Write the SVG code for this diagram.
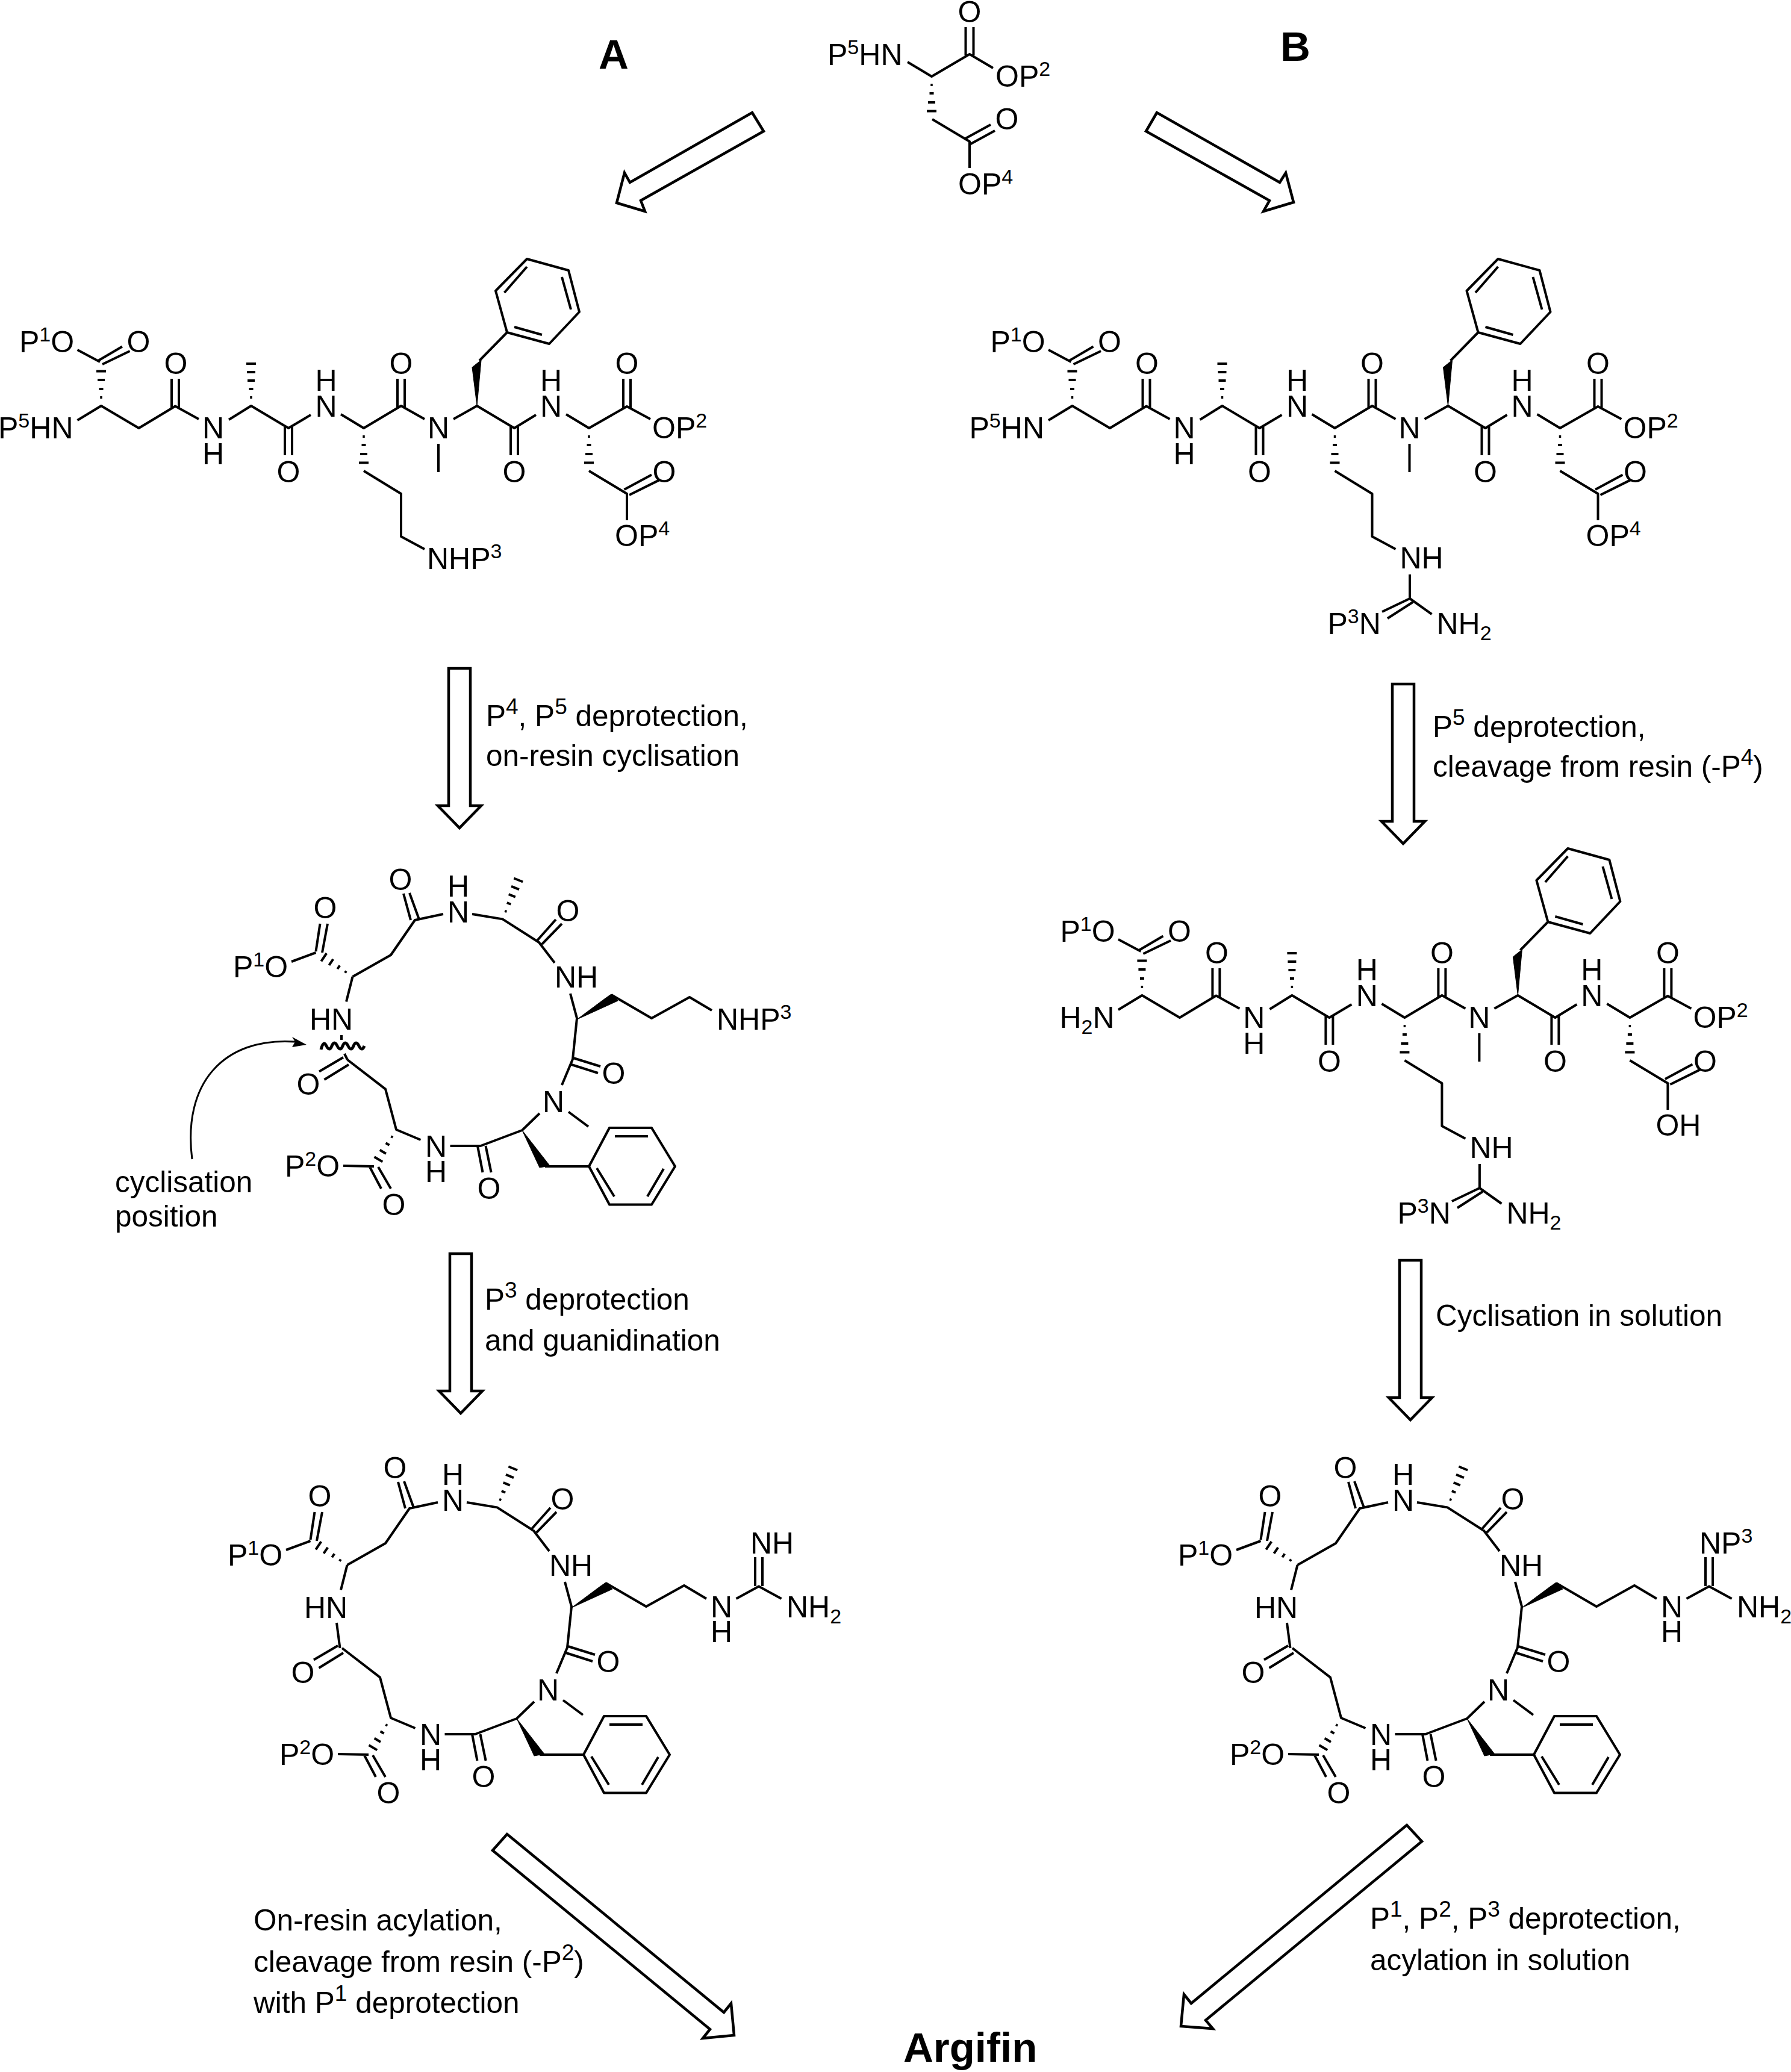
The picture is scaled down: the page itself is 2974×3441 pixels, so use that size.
<svg xmlns="http://www.w3.org/2000/svg" xmlns:xlink="http://www.w3.org/1999/xlink" width="2974" height="3441" viewBox="0 0 2974 3441">
<style>
text{font-family:"Liberation Sans",Arial,sans-serif;font-size:50px;fill:#000}
.m{text-anchor:middle}
.u{font-size:34px}
.l{font-size:49.5px}
.lu{font-size:37px}
.h{font-size:69px;font-weight:bold}
.b{fill:none;stroke:#000;stroke-width:4;stroke-linejoin:round}
.w{fill:#000;stroke:#000;stroke-width:1}
.a{fill:#fff;stroke:#000;stroke-width:4.5;stroke-linejoin:miter}
</style>
<defs>
<path id="hash" class="b" d="M-1.75 14H1.75M-3.5 28H3.5M-6 43H6M-8 57.5H8"/>
<path id="hash5" class="b" d="M-1.75 14H1.75M-3.5 28H3.5M-6 42H6M-7 56H7M-8 70H8"/>
<polygon id="varrow" class="a" points="-18,0 18,0 18,228 36,228 0,265 -36,228 -18,228"/>
<path id="pep" class="b" d="M128.5 698L168 674L230.5 711L291 674.5L330 696M380 697L417 674L479 711L516 689M566 688L604 711L666 674L705 696M753 696L792 674L854 711L890 689M940 688L978 711L1041 675L1080 696M728 737V784M285 629V677M297 629V677M660 629V677M672 629V677M1035 629V677M1047 629V677M473 708V756M485 708V756M848 708V756M860 708V756M128.5 581L166 601M163 599L203 575.5M170 605L215.6 583M978 782L1041 820L1041 864M1036.5 813L1082 788.5M1045 822L1094.5 797.4M604 782L666 820V891L705 912M796 599L842 552L912 571L962 518L944 449L875 430L823 483L842 552M837.5 486L875 443M933 460L948 514M854 543L900 556"/>
<polygon id="pepw" class="w" points="792,674 784,610 799,598"/>
<path id="core" class="b" d="M484 1597L524.5 1582M524.5 1580L531.5 1534M535 1582L544 1534M585.5 1622L649 1586L689 1528L736 1518M682 1528L670 1484M696 1527L680 1483M784 1518L834.5 1526.4L895 1565L921 1599M891 1563L923 1527M900 1568L933 1534M947 1650L958 1691L951 1759L933 1802M952 1757L997 1771M949 1768L993 1782M944 1846.5L977 1871M896 1849L867 1877L798 1903L747.5 1903M793 1903L801.5 1947M806.5 1903L815.6 1947M698.5 1893L658 1876L640 1808.6L577 1760M570 1756L530 1779.5M579 1768L538.5 1793M575 1663.5L585.5 1622M570 1936L621 1937M614 1938L633 1974M628 1938L649 1974M1015 1652L1082 1691L1145 1656L1182 1678M905 1937H978L1012 1873H1082L1121 1937L1082 2000.5H1012L978 1937M1021 1887H1076M991 1940L1020 1987M1102 1941L1075 1987"/>
<g id="corew">
<polygon class="w" points="958,1693 1005,1658 1015,1651 1026,1662"/>
<polygon class="w" points="867,1877 896,1939 913,1936"/>
<use href="#hash" transform="translate(585.5,1622) rotate(124)"/>
<use href="#hash5" transform="translate(834.5,1526.4) rotate(-158)"/>
<use href="#hash" transform="translate(658,1876) rotate(31)"/>
</g>
</defs>

<g id="labels-top">
<text class="h" x="994" y="114">A</text>
<text class="h" x="2126" y="101">B</text>
<text class="h" x="1500" y="3424">Argifin</text>
</g>

<g id="connectors">
<polygon class="a" points="1249,187 1268,218 1064,333 1071,351 1024,337 1037,287 1046,303"/>
<polygon class="a" points="1921,187 1903,218 2108,333 2098,351 2148,336 2135,287 2125,303"/>
<use href="#varrow" transform="translate(763,1110)"/>
<use href="#varrow" transform="translate(765,2082)"/>
<use href="#varrow" transform="translate(2330,1136)"/>
<use href="#varrow" transform="translate(2342,2093)"/>
<polygon class="a" points="842,3046 818,3073 1179,3370 1167,3385 1219,3380 1214,3327 1202,3342"/>
<polygon class="a" points="2336,3031 2361,3058 2002,3355 2014,3369 1961,3365 1966,3312 1978,3327"/>
<path d="M319 1925C303 1800 370 1722 490 1730" fill="none" stroke="#000" stroke-width="3"/>
<path d="M509 1735L485 1722L490 1730L485 1739Z" fill="#000"/>
</g>

<g id="start-aspartate">
<path class="b" d="M1507 103L1547 127L1610 90L1649 113M1603.5 45V92M1616.5 45V92M1548 198L1610 235V279M1603 230L1645 207M1610 240L1652 217"/>
<use href="#hash" transform="translate(1547,127)"/>
<text class="m" x="1610" y="37">O</text>
<text x="1374" y="108">P<tspan class="u" dy="-18">5</tspan><tspan dy="18">HN</tspan></text>
<text x="1653" y="144">OP<tspan class="u" dy="-18">2</tspan></text>
<text class="m" x="1672" y="215">O</text>
<text x="1591" y="323">OP<tspan class="u" dy="-18">4</tspan></text>
</g>

<g id="peptide-a">
<use href="#pep"/><use href="#pepw"/>
<use href="#hash" transform="translate(168,674) rotate(180)"/>
<use href="#hash5" transform="translate(417,674) rotate(180)"/>
<use href="#hash" transform="translate(604,711)"/>
<use href="#hash" transform="translate(978,711)"/>
<text x="32" y="585">P<tspan class="u" dy="-18">1</tspan><tspan dy="18">O</tspan></text>
<text class="m" x="230" y="585">O</text>
<text x="-3" y="728">P<tspan class="u" dy="-18">5</tspan><tspan dy="18">HN</tspan></text>
<text class="m" x="292" y="621">O</text>
<text class="m" x="354" y="728">N</text><text class="m" x="354" y="771">H</text>
<text class="m" x="479" y="801">O</text>
<text class="m" x="541.5" y="692">N</text><text class="m" x="541.5" y="649">H</text>
<text class="m" x="666" y="621">O</text>
<text class="m" x="728" y="728">N</text>
<text class="m" x="854" y="801">O</text>
<text class="m" x="915" y="692">N</text><text class="m" x="915" y="649">H</text>
<text class="m" x="1041" y="621">O</text>
<text x="1083" y="728">OP<tspan class="u" dy="-18">2</tspan></text>
<text class="m" x="1103" y="801">O</text>
<text x="1021" y="907">OP<tspan class="u" dy="-18">4</tspan></text>
<text x="709" y="945">NHP<tspan class="u" dy="-18">3</tspan></text>
</g>

<g id="peptide-b" transform="translate(1612.5,0)">
<use href="#pep"/><use href="#pepw"/>
<use href="#hash" transform="translate(168,674) rotate(180)"/>
<use href="#hash5" transform="translate(417,674) rotate(180)"/>
<use href="#hash" transform="translate(604,711)"/>
<use href="#hash" transform="translate(978,711)"/>
<path class="b" d="M728.5 954V994L765 1020M728.5 994L682.5 1016M733.5 1000L691.5 1027"/>
<text x="32" y="585">P<tspan class="u" dy="-18">1</tspan><tspan dy="18">O</tspan></text>
<text class="m" x="230" y="585">O</text>
<text x="-3" y="728">P<tspan class="u" dy="-18">5</tspan><tspan dy="18">HN</tspan></text>
<text class="m" x="292" y="621">O</text>
<text class="m" x="354" y="728">N</text><text class="m" x="354" y="771">H</text>
<text class="m" x="479" y="801">O</text>
<text class="m" x="541.5" y="692">N</text><text class="m" x="541.5" y="649">H</text>
<text class="m" x="666" y="621">O</text>
<text class="m" x="728" y="728">N</text>
<text class="m" x="854" y="801">O</text>
<text class="m" x="915" y="692">N</text><text class="m" x="915" y="649">H</text>
<text class="m" x="1041" y="621">O</text>
<text x="1083" y="728">OP<tspan class="u" dy="-18">2</tspan></text>
<text class="m" x="1103" y="801">O</text>
<text x="1021" y="907">OP<tspan class="u" dy="-18">4</tspan></text>
<text x="712" y="944">NH</text>
<text x="592" y="1053">P<tspan class="u" dy="-18">3</tspan><tspan dy="18">N</tspan></text>
<text x="773" y="1053">NH<tspan class="u" dy="10">2</tspan></text>
</g>

<g id="peptide-c" transform="translate(1728.4,979)">
<use href="#pep"/><use href="#pepw"/>
<use href="#hash" transform="translate(168,674) rotate(180)"/>
<use href="#hash5" transform="translate(417,674) rotate(180)"/>
<use href="#hash" transform="translate(604,711)"/>
<use href="#hash" transform="translate(978,711)"/>
<path class="b" d="M728.5 954V994L765 1020M728.5 994L682.5 1016M733.5 1000L691.5 1027"/>
<text x="32" y="585">P<tspan class="u" dy="-18">1</tspan><tspan dy="18">O</tspan></text>
<text class="m" x="230" y="585">O</text>
<text x="31" y="728">H<tspan class="u" dy="10">2</tspan><tspan dy="-10">N</tspan></text>
<text class="m" x="292" y="621">O</text>
<text class="m" x="354" y="728">N</text><text class="m" x="354" y="771">H</text>
<text class="m" x="479" y="801">O</text>
<text class="m" x="541.5" y="692">N</text><text class="m" x="541.5" y="649">H</text>
<text class="m" x="666" y="621">O</text>
<text class="m" x="728" y="728">N</text>
<text class="m" x="854" y="801">O</text>
<text class="m" x="915" y="692">N</text><text class="m" x="915" y="649">H</text>
<text class="m" x="1041" y="621">O</text>
<text x="1083" y="728">OP<tspan class="u" dy="-18">2</tspan></text>
<text class="m" x="1103" y="801">O</text>
<text x="1021" y="907">OH</text>
<text x="712" y="944">NH</text>
<text x="592" y="1053">P<tspan class="u" dy="-18">3</tspan><tspan dy="18">N</tspan></text>
<text x="773" y="1053">NH<tspan class="u" dy="10">2</tspan></text>
</g>

<g id="macrocycle-a1">
<use href="#core"/><use href="#corew"/>
<path class="b" d="M567 1719V1727M572 1750L577 1760"/>
<path d="M533 1743Q537 1727 542 1737T551 1737T560 1737T569 1737T578 1737T587 1737T596 1737T605 1737" fill="none" stroke="#000" stroke-width="5"/>
<text x="387" y="1623">P<tspan class="u" dy="-18">1</tspan><tspan dy="18">O</tspan></text>
<text class="m" x="540" y="1525">O</text>
<text class="m" x="665" y="1478">O</text>
<text class="m" x="761" y="1489">H</text><text class="m" x="761" y="1532">N</text>
<text class="m" x="943" y="1530">O</text>
<text x="921" y="1640">NH</text>
<text x="514" y="1710">HN</text>
<text class="m" x="1019" y="1800">O</text>
<text class="m" x="919" y="1846.5">N</text>
<text class="m" x="512" y="1818">O</text>
<text class="m" x="724" y="1921">N</text><text class="m" x="724" y="1963">H</text>
<text class="m" x="812" y="1991">O</text>
<text x="473" y="1954">P<tspan class="u" dy="-18">2</tspan><tspan dy="18">O</tspan></text>
<text class="m" x="654" y="2018">O</text>
<text x="1190" y="1710">NHP<tspan class="u" dy="-18">3</tspan></text>
</g>

<g id="macrocycle-a2" transform="translate(-9,977)">
<use href="#core"/><use href="#corew"/>
<path class="b" d="M568 1718L573.5 1760M1231.5 1678L1269 1657.5L1306.6 1678M1263 1609V1657M1275 1609V1657"/>
<text x="387" y="1623">P<tspan class="u" dy="-18">1</tspan><tspan dy="18">O</tspan></text>
<text class="m" x="540" y="1525">O</text>
<text class="m" x="665" y="1478">O</text>
<text class="m" x="761" y="1489">H</text><text class="m" x="761" y="1532">N</text>
<text class="m" x="943" y="1530">O</text>
<text x="921" y="1640">NH</text>
<text x="514" y="1710">HN</text>
<text class="m" x="1019" y="1800">O</text>
<text class="m" x="919" y="1846.5">N</text>
<text class="m" x="512" y="1818">O</text>
<text class="m" x="724" y="1921">N</text><text class="m" x="724" y="1963">H</text>
<text class="m" x="812" y="1991">O</text>
<text x="473" y="1954">P<tspan class="u" dy="-18">2</tspan><tspan dy="18">O</tspan></text>
<text class="m" x="654" y="2018">O</text>
<text class="m" x="1207" y="1708.5">N</text><text class="m" x="1207" y="1750">H</text>
<text x="1315" y="1708.5">NH<tspan class="u" dy="10">2</tspan></text>
<text x="1255" y="1603">NH</text>
</g>

<g id="macrocycle-b" transform="translate(1569,977)">
<use href="#core"/><use href="#corew"/>
<path class="b" d="M568 1718L573.5 1760M1231.5 1678L1269 1657.5L1306.6 1678M1263 1609V1657M1275 1609V1657"/>
<text x="387" y="1623">P<tspan class="u" dy="-18">1</tspan><tspan dy="18">O</tspan></text>
<text class="m" x="540" y="1525">O</text>
<text class="m" x="665" y="1478">O</text>
<text class="m" x="761" y="1489">H</text><text class="m" x="761" y="1532">N</text>
<text class="m" x="943" y="1530">O</text>
<text x="921" y="1640">NH</text>
<text x="514" y="1710">HN</text>
<text class="m" x="1019" y="1800">O</text>
<text class="m" x="919" y="1846.5">N</text>
<text class="m" x="512" y="1818">O</text>
<text class="m" x="724" y="1921">N</text><text class="m" x="724" y="1963">H</text>
<text class="m" x="812" y="1991">O</text>
<text x="473" y="1954">P<tspan class="u" dy="-18">2</tspan><tspan dy="18">O</tspan></text>
<text class="m" x="654" y="2018">O</text>
<text class="m" x="1207" y="1708.5">N</text><text class="m" x="1207" y="1750">H</text>
<text x="1315" y="1708.5">NH<tspan class="u" dy="10">2</tspan></text>
<text x="1253" y="1603">NP<tspan class="u" dy="-18">3</tspan></text>
</g>

<g id="labels-steps">
<text class="l" x="807" y="1206">P<tspan class="lu" dy="-20">4</tspan><tspan dy="20">, P</tspan><tspan class="lu" dy="-20">5</tspan><tspan dy="20"> deprotection,</tspan></text>
<text class="l" x="807" y="1272">on-resin cyclisation</text>
<text class="l" x="191" y="1980">cyclisation</text>
<text class="l" x="191" y="2037">position</text>
<text class="l" x="805" y="2175">P<tspan class="lu" dy="-20">3</tspan><tspan dy="20"> deprotection</tspan></text>
<text class="l" x="805" y="2243">and guanidination</text>
<text class="l" x="2379" y="1224">P<tspan class="lu" dy="-20">5</tspan><tspan dy="20"> deprotection,</tspan></text>
<text class="l" x="2379" y="1290">cleavage from resin (-P<tspan class="lu" dy="-20">4</tspan><tspan dy="20">)</tspan></text>
<text class="l" x="2384" y="2202">Cyclisation in solution</text>
<text class="l" x="421" y="3206">On-resin acylation,</text>
<text class="l" x="421" y="3275">cleavage from resin (-P<tspan class="lu" dy="-20">2</tspan><tspan dy="20">)</tspan></text>
<text class="l" x="421" y="3343">with P<tspan class="lu" dy="-20">1</tspan><tspan dy="20"> deprotection</tspan></text>
<text class="l" x="2275" y="3203">P<tspan class="lu" dy="-20">1</tspan><tspan dy="20">, P</tspan><tspan class="lu" dy="-20">2</tspan><tspan dy="20">, P</tspan><tspan class="lu" dy="-20">3</tspan><tspan dy="20"> deprotection,</tspan></text>
<text class="l" x="2275" y="3272">acylation in solution</text>
</g>
</svg>
